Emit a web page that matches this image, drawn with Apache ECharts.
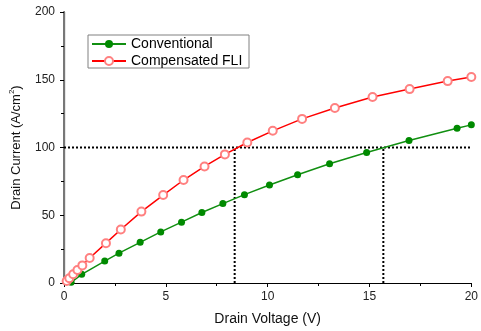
<!DOCTYPE html>
<html>
<head>
<meta charset="utf-8">
<script src="https://cdn.jsdelivr.net/npm/echarts@6/dist/echarts.min.js"></script>
<style>
  html, body { margin: 0; padding: 0; background: #fff; }
  #chart { width: 481px; height: 331px; }
</style>
</head>
<body>
<div id="chart"></div>
<script>
// values
const convVoltage = [0.35, 0.87, 2.0, 2.7, 3.74, 4.75, 5.77, 6.77, 7.8, 8.86, 10.09, 11.47, 13.04, 14.86, 16.94, 19.3, 20];
const convCurrent = [0.5, 6.4, 16.2, 22, 30, 37.7, 44.9, 52, 58.6, 65.2, 72.3, 79.9, 88, 96.3, 105.1, 114.2, 116.7];

const fliVoltage = [0.13, 0.26, 0.45, 0.66, 0.9, 1.26, 2.06, 2.79, 3.8, 4.87, 5.87, 6.9, 7.9, 9.0, 10.25, 11.69, 13.3, 15.15, 16.97, 18.84, 20];
const fliCurrent = [1.5, 3.5, 6.4, 9.6, 13, 18.4, 29.4, 39.5, 52.7, 64.9, 76, 86, 94.9, 103.7, 112.3, 121.1, 129.2, 137.3, 143.1, 149, 152];

// reference current level and where each curve crosses it
const refCurrent = 100;
const crossConv = 15.68;
const crossFli = 8.38;

const xTicks = { min: 0, max: 20, interval: 5 };
const yTicks = { min: 0, max: 200, interval: 50 };

const font = 'Liberation Sans, Arial, sans-serif';

const zip = (xs, ys) => xs.map((x, i) => [x, ys[i]]);

const chart = echarts.init(document.getElementById('chart'));

const dotted = (data) => ({
  type: 'line',
  data: data,
  symbol: 'none',
  silent: true,
  z: 1,
  lineStyle: { color: '#000', width: 2, type: [2, 2] }
});

chart.setOption({
  backgroundColor: '#fff',
  animation: false,
  grid: { left: 61, right: 6, top: 12, bottom: 47 },
  graphic: [{
    type: 'rect',
    shape: { x: 88, y: 35, width: 161, height: 33 },
    style: { fill: '#fff', stroke: '#808080', lineWidth: 1 },
    z: 5
  }],
  legend: {
    data: ['Conventional', 'Compensated FLI'],
    orient: 'vertical',
    left: 91,
    top: 37,
    padding: 0,
    itemGap: 3,
    itemWidth: 34,
    itemHeight: 10,
    z: 10,
    textStyle: { fontFamily: font, fontSize: 14, color: '#000' }
  },
  xAxis: [{
    type: 'value',
    min: xTicks.min, max: xTicks.max, interval: xTicks.interval,
    name: 'Drain Voltage (V)',
    nameLocation: 'middle',
    nameGap: 29,
    nameTextStyle: { fontFamily: font, fontSize: 14, color: '#111' },
    axisLine: { lineStyle: { color: '#000', width: 1.2 } },
    axisTick: { inside: false, length: 4, lineStyle: { color: '#000' } },
    minorTick: { show: true, splitNumber: 2, length: 3, lineStyle: { color: '#000' } },
    axisLabel: { margin: 8, fontFamily: font, fontSize: 12, color: '#222' },
    splitLine: { show: false }
  }, {
    type: 'value',
    position: 'top',
    min: xTicks.min, max: xTicks.max, interval: xTicks.interval,
    axisLine: { show: true, lineStyle: { color: '#000', width: 1.2 } },
    axisTick: { show: true, inside: true, length: 4, lineStyle: { color: '#000' } },
    minorTick: { show: true, splitNumber: 2, length: 3, lineStyle: { color: '#000' } },
    axisLabel: { show: false },
    splitLine: { show: false }
  }],
  yAxis: [{
    type: 'value',
    min: yTicks.min, max: yTicks.max, interval: yTicks.interval,
    name: '{n|Drain Current (A/cm}{s|2}{n|)}',
    nameLocation: 'middle',
    nameGap: 40,
    nameTextStyle: {
      rich: {
        n: { fontFamily: font, fontSize: 13, color: '#111' },
        s: { fontFamily: font, fontSize: 8, color: '#111', verticalAlign: 'top', padding: [0, 0, 8, 0] }
      }
    },
    axisLine: { show: true, lineStyle: { color: '#000', width: 1.2 } },
    axisTick: { show: true, inside: false, length: 4, lineStyle: { color: '#000' } },
    minorTick: { show: true, splitNumber: 2, length: 3, lineStyle: { color: '#000' } },
    axisLabel: { margin: 9, fontFamily: font, fontSize: 12, color: '#222' },
    splitLine: { show: false }
  }, {
    type: 'value',
    position: 'right',
    min: yTicks.min, max: yTicks.max, interval: yTicks.interval,
    axisLine: { show: true, lineStyle: { color: '#777', width: 2 } },
    axisTick: { show: true, inside: true, length: 4, lineStyle: { color: '#000' } },
    minorTick: { show: true, splitNumber: 2, length: 3, lineStyle: { color: '#000' } },
    axisLabel: { show: false },
    splitLine: { show: false }
  }],
  series: [
    dotted([[xTicks.min, refCurrent], [xTicks.max, refCurrent]]),
    dotted([[crossFli, 0], [crossFli, refCurrent]]),
    dotted([[crossConv, 0], [crossConv, refCurrent]]),
    {
      name: 'Conventional',
      type: 'line',
      data: zip(convVoltage, convCurrent),
      symbol: 'circle',
      symbolSize: 7,
      z: 3,
      itemStyle: { color: '#008a00' },
      lineStyle: { color: '#118f11', width: 1.5 }
    },
    {
      name: 'Compensated FLI',
      type: 'line',
      data: zip(fliVoltage, fliCurrent),
      symbol: 'emptyCircle',
      symbolSize: 8,
      z: 4,
      itemStyle: { color: '#ff8080', borderWidth: 0.8 },
      lineStyle: { color: '#ff0000', width: 1.5 }
    }
  ]
});
</script>
</body>
</html>
